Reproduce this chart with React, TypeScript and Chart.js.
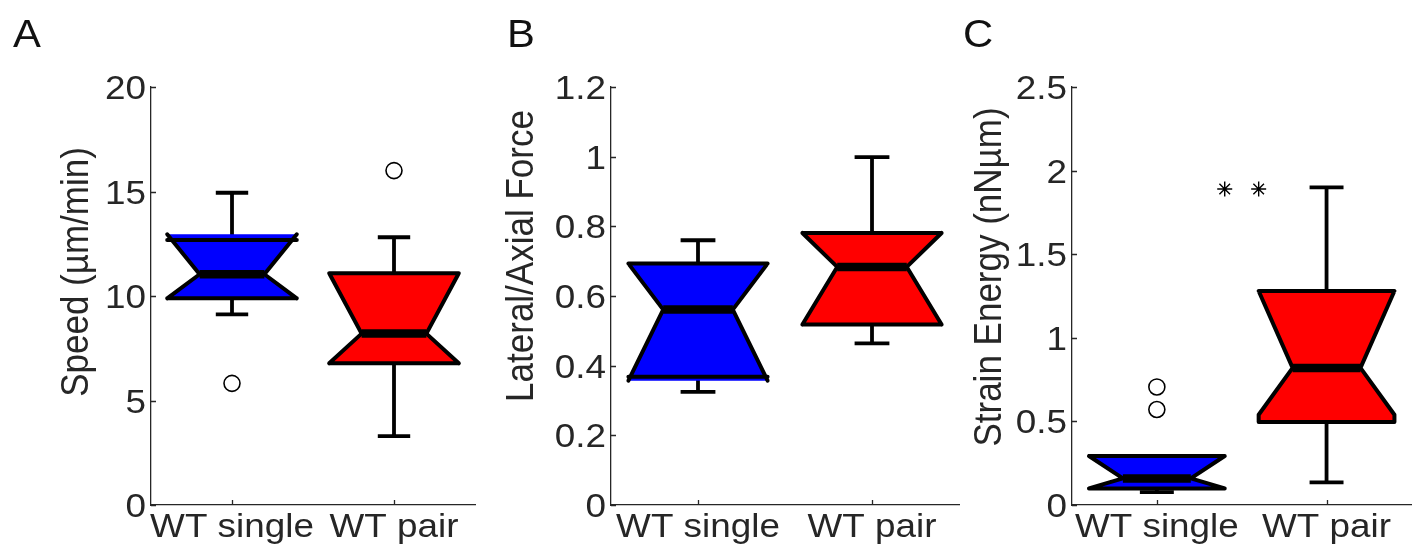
import React, { useEffect, useRef } from 'react';
import { Chart, registerables } from 'chart.js';

Chart.register(...registerables);

// ---------- data ----------
const categories = ['WT single', 'WT pair'];

// Panel A: Speed (µm/min)
const speedWhiskerLo = [9.12, 3.3];
const speedQ1 = [9.89, 6.78];
const speedNotchLo = [9.89, 6.78];
const speedMedian = [11.04, 8.2];
const speedNotchHi = [12.95, 11.09];
const speedQ3 = [12.68, 11.09];
const speedWhiskerHi = [14.94, 12.81];
const speedOutliers = [[5.82], [16.0]];
const speedTicks = [0, 5, 10, 15, 20];
const speedTickLabels = ['0', '5', '10', '15', '20'];

// Panel B: Lateral/Axial Force
const forceWhiskerLo = [0.3245, 0.464];
const forceQ1 = [0.3685, 0.518];
const forceNotchLo = [0.357, 0.518];
const forceMedian = [0.561, 0.6835];
const forceNotchHi = [0.693, 0.781];
const forceQ3 = [0.693, 0.781];
const forceWhiskerHi = [0.76, 0.9985];
const forceOutliers: number[][] = [[], []];
const forceTicks = [0, 0.2, 0.4, 0.6, 0.8, 1, 1.2];
const forceTickLabels = ['0', '0.2', '0.4', '0.6', '0.8', '1', '1.2'];

// Panel C: Strain Energy (nNµm)
const energyWhiskerLo = [0.077, 0.135];
const energyQ1 = [0.099, 0.496];
const energyNotchLo = [0.099, 0.54];
const energyMedian = [0.159, 0.82];
const energyNotchHi = [0.293, 1.28];
const energyQ3 = [0.293, 1.28];
const energyWhiskerHi = [0.293, 1.9];
const energyOutliers = [[0.571, 0.706], []];
const energyTicks = [0, 0.5, 1, 1.5, 2, 2.5];
const energyTickLabels = ['0', '0.5', '1', '1.5', '2', '2.5'];
const energyStarX = [1.4, 1.6];
const energyStarY = [1.89, 1.89];

const boxColors = ['#0000FF', '#FF0000'];

// ---------- layout ----------
const W = 1421;
const H = 550;
const FONT = '"Liberation Sans", Arial, Helvetica, sans-serif';
const TEXT = '#262626';
const STRETCH = 1.1;
const TICK_SIZE = 33.5;
const TITLE_SIZE = 35;
const LETTER_SIZE = 38;
const Y_W = 70;
const X_H = 40;

type PanelCfg = {
  letter: string;
  letterX: number;
  title: string;
  titleX: number;
  titleY: number;
  area: { left: number; right: number; top: number; bottom: number };
  whiskerLo: number[];
  q1: number[];
  notchLo: number[];
  median: number[];
  notchHi: number[];
  q3: number[];
  whiskerHi: number[];
  outliers: number[][];
  ticks: number[];
  tickLabels: string[];
  starX?: number[];
  starY?: number[];
};

const panels: PanelCfg[] = [
  {
    letter: 'A', letterX: 13, title: 'Speed (µm/min)', titleX: 77, titleY: 272,
    area: { left: 151, right: 475, top: 87, bottom: 505 },
    whiskerLo: speedWhiskerLo, q1: speedQ1, notchLo: speedNotchLo, median: speedMedian,
    notchHi: speedNotchHi, q3: speedQ3, whiskerHi: speedWhiskerHi, outliers: speedOutliers,
    ticks: speedTicks, tickLabels: speedTickLabels,
  },
  {
    letter: 'B', letterX: 507, title: 'Lateral/Axial Force', titleX: 522, titleY: 256,
    area: { left: 611, right: 959, top: 87, bottom: 505 },
    whiskerLo: forceWhiskerLo, q1: forceQ1, notchLo: forceNotchLo, median: forceMedian,
    notchHi: forceNotchHi, q3: forceQ3, whiskerHi: forceWhiskerHi, outliers: forceOutliers,
    ticks: forceTicks, tickLabels: forceTickLabels,
  },
  {
    letter: 'C', letterX: 963, title: 'Strain Energy (nNµm)', titleX: 990, titleY: 277,
    area: { left: 1072, right: 1420, top: 87, bottom: 505 },
    whiskerLo: energyWhiskerLo, q1: energyQ1, notchLo: energyNotchLo, median: energyMedian,
    notchHi: energyNotchHi, q3: energyQ3, whiskerHi: energyWhiskerHi, outliers: energyOutliers,
    ticks: energyTicks, tickLabels: energyTickLabels,
    starX: energyStarX, starY: energyStarY,
  },
];

function stretchedText(
  ctx: CanvasRenderingContext2D,
  text: string,
  x: number,
  y: number,
  align: CanvasTextAlign,
  size: number,
) {
  ctx.save();
  ctx.translate(x, y);
  ctx.scale(STRETCH, 1);
  ctx.font = `${size}px ${FONT}`;
  ctx.textAlign = align;
  ctx.textBaseline = 'alphabetic';
  ctx.fillText(text, 0, 0);
  ctx.restore();
}

function makePlugin(cfg: PanelCfg) {
  return {
    id: 'notchBox' + cfg.letter,
    beforeDatasetsDraw(chart: any) {
      const ctx = chart.ctx as CanvasRenderingContext2D;
      const xs = chart.scales.x;
      const ys = chart.scales.y;
      const unit = xs.getPixelForValue(2) - xs.getPixelForValue(1);
      const Y = (v: number) => ys.getPixelForValue(v);
      ctx.save();
      cfg.q1.forEach((_, i) => {
        const cx = xs.getPixelForValue(i + 1);
        const L = cx - 0.4 * unit;
        const R = cx + 0.4 * unit;
        const nL = cx - 0.2 * unit;
        const nR = cx + 0.2 * unit;
        const cap = 0.1 * unit;
        const q1 = cfg.q1[i], q3 = cfg.q3[i], med = cfg.median[i];
        const nlo = cfg.notchLo[i], nhi = cfg.notchHi[i];
        const bot = Math.min(q1, nlo);
        const top = Math.max(q3, nhi);

        // whiskers
        ctx.strokeStyle = '#000';
        ctx.lineWidth = 3.8;
        ctx.lineCap = 'butt';
        ctx.beginPath();
        ctx.moveTo(cx, Y(q3));
        ctx.lineTo(cx, Y(cfg.whiskerHi[i]));
        ctx.moveTo(cx - cap, Y(cfg.whiskerHi[i]));
        ctx.lineTo(cx + cap, Y(cfg.whiskerHi[i]));
        ctx.moveTo(cx, Y(q1));
        ctx.lineTo(cx, Y(cfg.whiskerLo[i]));
        ctx.moveTo(cx - cap, Y(cfg.whiskerLo[i]));
        ctx.lineTo(cx + cap, Y(cfg.whiskerLo[i]));
        ctx.stroke();

        // fill
        ctx.fillStyle = boxColors[i];
        ctx.beginPath();
        ctx.moveTo(L, Y(bot));
        ctx.lineTo(L, Y(nlo));
        ctx.lineTo(nL, Y(med));
        ctx.lineTo(L, Y(nhi));
        ctx.lineTo(L, Y(top));
        ctx.lineTo(R, Y(top));
        ctx.lineTo(R, Y(nhi));
        ctx.lineTo(nR, Y(med));
        ctx.lineTo(R, Y(nlo));
        ctx.lineTo(R, Y(bot));
        ctx.closePath();
        ctx.fill();

        // outline
        ctx.strokeStyle = '#000';
        ctx.lineWidth = 4;
        ctx.lineJoin = 'round';
        ctx.lineCap = 'round';
        ctx.beginPath();
        ctx.moveTo(L, Y(bot));
        ctx.lineTo(L, Y(nlo));
        ctx.lineTo(nL, Y(med));
        ctx.lineTo(L, Y(nhi));
        ctx.lineTo(L, Y(top));
        ctx.moveTo(R, Y(bot));
        ctx.lineTo(R, Y(nlo));
        ctx.lineTo(nR, Y(med));
        ctx.lineTo(R, Y(nhi));
        ctx.lineTo(R, Y(top));
        ctx.moveTo(L, Y(q3));
        ctx.lineTo(R, Y(q3));
        ctx.moveTo(L, Y(q1));
        ctx.lineTo(R, Y(q1));
        ctx.stroke();

        // median
        ctx.lineWidth = 8.5;
        ctx.lineCap = 'butt';
        ctx.beginPath();
        ctx.moveTo(nL, Y(med));
        ctx.lineTo(nR, Y(med));
        ctx.stroke();
      });
      ctx.restore();
    },
    afterDraw(chart: any) {
      const ctx = chart.ctx as CanvasRenderingContext2D;
      const xs = chart.scales.x;
      const ys = chart.scales.y;
      const a = chart.chartArea;
      ctx.save();
      // inward tick marks
      ctx.strokeStyle = TEXT;
      ctx.lineWidth = 1.3;
      ctx.beginPath();
      cfg.ticks.forEach((t) => {
        const y = Math.round(ys.getPixelForValue(t)) + 0.5;
        ctx.moveTo(a.left, y);
        ctx.lineTo(a.left + 5, y);
      });
      categories.forEach((_, i) => {
        const x = Math.round(xs.getPixelForValue(i + 1)) + 0.5;
        ctx.moveTo(x, a.bottom);
        ctx.lineTo(x, a.bottom - 5);
      });
      ctx.stroke();

      ctx.fillStyle = TEXT;
      // y tick labels
      cfg.ticks.forEach((t, i) => {
        const y = ys.getPixelForValue(t);
        stretchedText(ctx, cfg.tickLabels[i], a.left - 5, y + 12, 'right', TICK_SIZE);
      });
      // x tick labels
      categories.forEach((c, i) => {
        const x = xs.getPixelForValue(i + 1);
        stretchedText(ctx, c, x, a.bottom + 32, 'center', TICK_SIZE);
      });

      // y title (rotated, stretched across its thickness)
      ctx.save();
      ctx.translate(cfg.titleX, cfg.titleY);
      ctx.rotate(-Math.PI / 2);
      ctx.scale(1, STRETCH);
      ctx.font = `${TITLE_SIZE}px ${FONT}`;
      ctx.textAlign = 'center';
      ctx.textBaseline = 'middle';
      ctx.fillText(cfg.title, 0, 0);
      ctx.restore();

      // panel letter
      ctx.fillStyle = '#111';
      stretchedText(ctx, cfg.letter, cfg.letterX, 47, 'left', LETTER_SIZE);
      ctx.restore();
    },
  };
}

function Panel({ cfg }: { cfg: PanelCfg }) {
  const ref = useRef<HTMLCanvasElement>(null);
  useEffect(() => {
    const outlierPts: { x: number; y: number }[] = [];
    cfg.outliers.forEach((list, i) => list.forEach((v) => outlierPts.push({ x: i + 1, y: v })));
    const datasets: any[] = [
      {
        data: outlierPts,
        pointStyle: 'circle',
        pointRadius: 8,
        pointBorderWidth: 1.6,
        pointBorderColor: '#000',
        pointBackgroundColor: '#fff',
      },
    ];
    if (cfg.starX && cfg.starY) {
      datasets.push({
        data: cfg.starX.map((x, i) => ({ x, y: cfg.starY![i] })),
        pointStyle: 'star',
        pointRadius: 7.5,
        pointBorderWidth: 1.4,
        pointBorderColor: '#000',
        pointBackgroundColor: '#000',
      });
    }
    const a = cfg.area;
    const chart = new Chart(ref.current!, {
      type: 'scatter',
      data: { datasets },
      options: {
        responsive: false,
        animation: false,
        devicePixelRatio: 1,
        events: [],
        layout: {
          padding: {
            left: a.left - Y_W,
            right: W - a.right,
            top: a.top,
            bottom: H - a.bottom - X_H,
          },
        },
        plugins: { legend: { display: false }, tooltip: { enabled: false } },
        scales: {
          x: {
            type: 'linear',
            min: 0.5,
            max: categories.length + 0.5,
            afterBuildTicks: (scale: any) => {
              scale.ticks = categories.map((_, i) => ({ value: i + 1 }));
            },
            afterFit: (scale: any) => {
              scale.height = X_H;
            },
            grid: { display: true, drawOnChartArea: false, drawTicks: false, color: 'rgba(0,0,0,0)' },
            border: { display: true, color: TEXT, width: 1.3 },
            ticks: { display: false },
          },
          y: {
            type: 'linear',
            min: cfg.ticks[0],
            max: cfg.ticks[cfg.ticks.length - 1],
            afterBuildTicks: (scale: any) => {
              scale.ticks = cfg.ticks.map((v) => ({ value: v }));
            },
            afterFit: (scale: any) => {
              scale.width = Y_W;
            },
            grid: { display: true, drawOnChartArea: false, drawTicks: false, color: 'rgba(0,0,0,0)' },
            border: { display: true, color: TEXT, width: 1.3 },
            ticks: { display: false },
          },
        },
      },
      plugins: [makePlugin(cfg)],
    } as any);
    return () => chart.destroy();
  }, []);
  return (
    <canvas
      ref={ref}
      width={W}
      height={H}
      style={{ position: 'absolute', left: 0, top: 0, width: W, height: H }}
    />
  );
}

export default function App() {
  return (
    <div style={{ position: 'absolute', left: 0, top: 0, width: W, height: H, background: '#fff', overflow: 'hidden' }}>
      {panels.map((p) => (
        <Panel key={p.letter} cfg={p} />
      ))}
    </div>
  );
}
